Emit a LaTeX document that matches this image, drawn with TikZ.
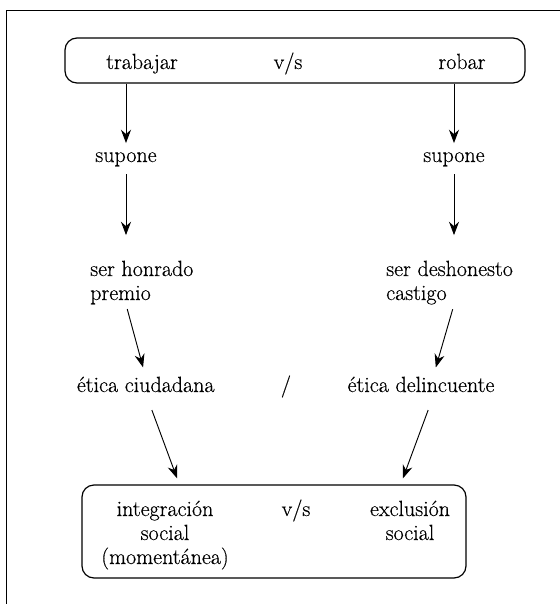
\documentclass[tikz,border=0pt]{standalone}
\usepackage{fontspec}
\setmainfont{Latin Modern Roman}[FakeBold=0.4]
\usetikzlibrary{arrows.meta}

\begin{document}
\begin{tikzpicture}[
  x=0.75pt, y=-0.75pt,
  font=\fontsize{16.5}{18}\selectfont,
  word/.style={inner sep=0pt, text height=11pt, text depth=3.5pt},
  lines/.style={inner sep=0pt},
  panel/.style={draw, line width=0.9pt, rounded corners=9pt},
  link/.style={->, line width=0.7pt},
  >={Stealth[length=10pt,width=7.5pt]},
]

\useasboundingbox (0,0) rectangle (560,604);
\draw [line width=0.7pt] (6.5,604) -- (6.5,10) -- (560,10);

% upper panel
\node [panel, minimum width=345pt, minimum height=33.75pt] (duo) at (295,60.5) {};
\node [word, anchor=base] (trab) at (142,69) {trabajar};
\node [word, anchor=base] (vsA) at (288,69) {v/s};
\node [word, anchor=base] (robar) at (462,69) {robar};

\node [word, anchor=base] (supL) at (126,162) {supone};
\node [word, anchor=base] (supR) at (454,162) {supone};

% base of a two-line node = last line
\node [lines, anchor=base west, align=left] (honL) at (90,300) {ser honrado\\premio};
\node [lines, anchor=base west, align=left] (honR) at (386,300) {ser deshonesto\\castigo};

\node [word, anchor=base] (eticaL) at (145.7,392) {ética ciudadana};
\node [word, anchor=base] (barra) at (286,392) {/};
\node [word, anchor=base] (eticaR) at (421,392) {ética delincuente};

% lower panel
\node [panel, minimum width=288pt, minimum height=69.75pt] (bot) at (274,531.5) {};
\node [lines, anchor=base, align=center] (integ) at (165,564) {integración\\social\\(momentánea)};
\node [word, anchor=base] (vsB) at (296,516) {v/s};
\node [lines, anchor=base, align=center] (excl) at (410,540) {exclusión\\social};

\draw [link, shorten >=3pt] (supL |- duo.south) -- (supL.north);
\draw [link, shorten >=3pt] (supR |- duo.south) -- (supR.north);
\draw [link, shorten <=5.5pt, shorten >=19pt] (supL.south) -- (supL |- honL.north);
\draw [link, shorten <=5.5pt, shorten >=19pt] (supR.south) -- (supR |- honR.north);

\draw [link, shorten <=3.5pt, shorten >=7.5pt] (supL |- honL.south) -- (eticaL.north);
\draw [link, shorten <=3.5pt, shorten >=7.5pt] (supR |- honR.south) -- ([xshift=9pt]eticaR.north);

\draw [link, shorten <=10.5pt, shorten >=4.8pt] ([xshift=1pt]eticaL.south) -- ([xshift=-71pt]bot.north);
\draw [link, shorten <=10.5pt, shorten >=4.8pt] ([xshift=9pt]eticaR.south) -- ([xshift=95pt]bot.north);

\end{tikzpicture}
\end{document}
